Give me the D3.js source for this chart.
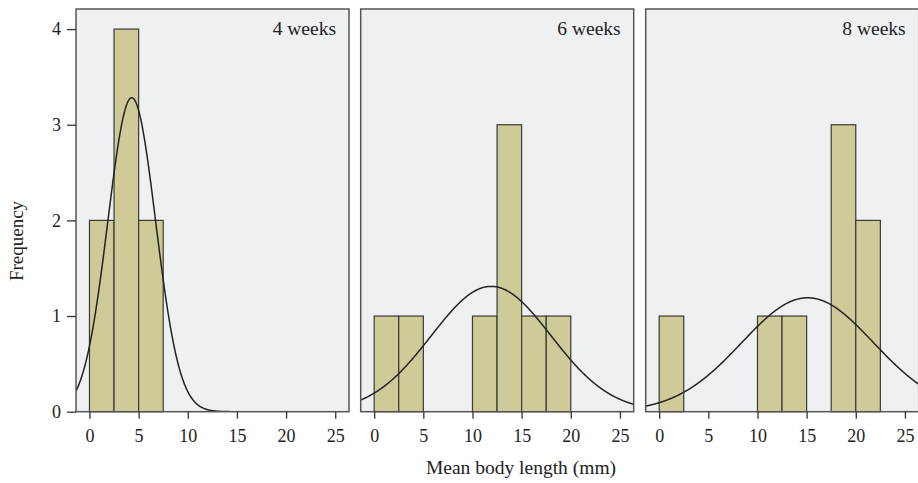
<!DOCTYPE html>
<html>
<head>
<meta charset="utf-8">
<script src="https://cdn.jsdelivr.net/npm/d3@7"></script>
<style>
  html, body { margin: 0; padding: 0; background: #ffffff; }
  svg { display: block; }
  text { font-family: "Liberation Serif", "DejaVu Serif", serif; fill: #222; }
</style>
</head>
<body>
<svg id="chart" width="918" height="483"></svg>
<script>
// ---------- data ----------
const panelLabels = ["4 weeks", "6 weeks", "8 weeks"];
const binWidth = 2.5;
const binStarts4 = [0, 2.5, 5];
const counts4    = [2, 4, 2];
const binStarts6 = [0, 2.5, 10, 12.5, 15, 17.5];
const counts6    = [1, 1, 1, 3, 1, 1];
const binStarts8 = [0, 10, 12.5, 17.5, 20];
const counts8    = [1, 1, 1, 3, 2];
// fitted normal curve parameters (mean, sd, n) per panel
const curveMeans = [4.3, 11.9, 15.1];
const curveSds   = [2.43, 6.09, 6.70];
const curveNs    = [8, 8, 8];
const xTicks = [0, 5, 10, 15, 20, 25];
const yTicks = [0, 1, 2, 3, 4];
const xTitle = "Mean body length (mm)";
const yTitle = "Frequency";

const binStartsAll = [binStarts4, binStarts6, binStarts8];
const countsAll = [counts4, counts6, counts8];

// ---------- layout ----------
const svg = d3.select("#chart");
const panelLefts = [76, 360.7, 645.7];
const panelW = 273;
const panelTop = 9, panelBottom = 411.7;
const panelH = panelBottom - panelTop;

const x = d3.scaleLinear().domain([-1.37, 26.4]).range([0, panelW]);
const y = d3.scaleLinear().domain([0, 4.21]).range([panelH, 0]);

panelLabels.forEach((lab, i) => {
  const g = svg.append("g").attr("transform", `translate(${panelLefts[i]},${panelTop})`);

  g.append("rect")
    .attr("x", 0).attr("y", 0).attr("width", panelW).attr("height", panelH)
    .attr("fill", "#eff0f2");

  const clipId = "clip" + i;
  g.append("clipPath").attr("id", clipId)
    .append("rect").attr("x", 0).attr("y", 0).attr("width", panelW).attr("height", panelH);

  const bins = binStartsAll[i].map((s, k) => ({ x0: s, x1: s + binWidth, c: countsAll[i][k] }));
  g.append("g").selectAll("rect").data(bins).join("rect")
    .attr("x", d => x(d.x0))
    .attr("width", d => x(d.x1) - x(d.x0))
    .attr("y", d => y(d.c))
    .attr("height", d => y(0) - y(d.c))
    .attr("fill", "#cfcb98")
    .attr("stroke", "#3a3a36")
    .attr("stroke-width", 1.2);

  // normal curve scaled to histogram counts
  const mu = curveMeans[i], sd = curveSds[i], n = curveNs[i];
  const xs = d3.range(-1.37, 26.41, 0.05);
  const pts = xs.map(v => [v, n * binWidth / (sd * Math.sqrt(2 * Math.PI)) * Math.exp(-0.5 * ((v - mu) / sd) ** 2)]);
  g.append("path")
    .attr("clip-path", `url(#${clipId})`)
    .attr("d", d3.line().x(d => x(d[0])).y(d => y(d[1])).curve(d3.curveBasis)(pts))
    .attr("fill", "none")
    .attr("stroke", "#222")
    .attr("stroke-width", 1.5);

  // border
  g.append("rect")
    .attr("x", 0).attr("y", 0).attr("width", panelW).attr("height", panelH)
    .attr("fill", "none").attr("stroke", "#555").attr("stroke-width", 1.5);

  // panel label
  g.append("text")
    .attr("x", panelW - 13).attr("y", 35 - panelTop)
    .attr("text-anchor", "end")
    .attr("font-size", 19.5)
    .text(lab);

  // x axis
  const xAxis = d3.axisBottom(x).tickValues(xTicks).tickSize(7).tickPadding(11).tickFormat(d3.format("d"));
  const xg = g.append("g").attr("transform", `translate(0,${panelH})`).call(xAxis);
  xg.select(".domain").remove();
  xg.selectAll(".tick line").attr("stroke", "#333").attr("stroke-width", 1.3);
  xg.selectAll(".tick text")
    .attr("font-family", '"Liberation Serif", serif')
    .attr("font-size", 18)
    .attr("fill", "#222");

  if (i === 0) {
    const yAxis = d3.axisLeft(y).tickValues(yTicks).tickSize(9).tickPadding(6).tickFormat(d3.format("d"));
    const yg = g.append("g").call(yAxis);
    yg.select(".domain").remove();
    yg.selectAll(".tick line").attr("stroke", "#333").attr("stroke-width", 1.3);
    yg.selectAll(".tick text")
      .attr("font-family", '"Liberation Serif", serif')
      .attr("font-size", 18)
      .attr("fill", "#222");
  }
});

// axis titles
svg.append("text")
  .attr("x", 521).attr("y", 474)
  .attr("text-anchor", "middle")
  .attr("font-size", 19.5)
  .text(xTitle);

svg.append("text")
  .attr("transform", "translate(23,241) rotate(-90)")
  .attr("text-anchor", "middle")
  .attr("font-size", 19)
  .text(yTitle);
</script>
</body>
</html>
